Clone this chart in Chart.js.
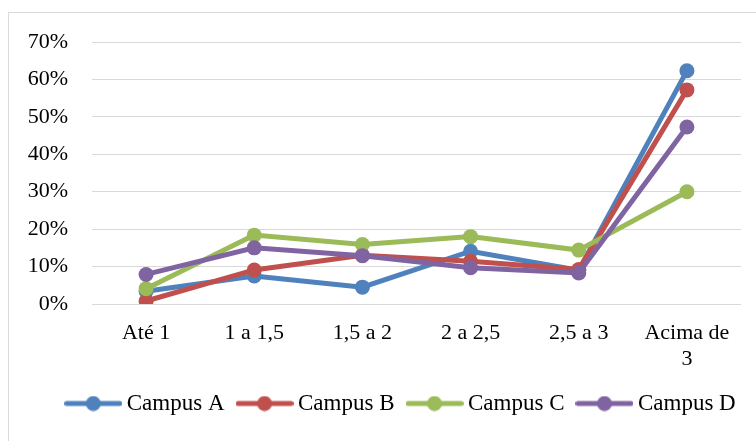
<!DOCTYPE html>
<html>
<head>
<meta charset="utf-8">
<script src="https://cdn.jsdelivr.net/npm/chart.js@4/dist/chart.umd.min.js"></script>
<style>
  html, body { margin: 0; padding: 0; background: #fff; overflow: hidden; }
  #wrap { position: relative; width: 756px; height: 441px; }
  #frame { position: absolute; left: 8px; top: 12px; width: 800px; height: 500px; border: 1px solid #d9d9d9; }
  canvas { position: absolute; left: 0; top: 0; }
</style>
</head>
<body>
<div id="wrap">
  <div id="frame"></div>
  <canvas id="c" width="756" height="441"></canvas>
</div>
<script>
// Share of students per range (percent)
const categories = ['Até 1', '1 a 1,5', '1,5 a 2', '2 a 2,5', '2,5 a 3', ['Acima de', '3']];
const campusA = [3.4, 7.5, 4.5, 14.1, 9.0, 62.3];
const campusB = [0.8, 9.1, 13.0, 11.4, 9.2, 57.2];
const campusC = [4.1, 18.4, 15.9, 18.0, 14.4, 30.0];
const campusD = [7.9, 15.0, 12.9, 9.7, 8.3, 47.3];
const seriesNames = ['Campus A', 'Campus B', 'Campus C', 'Campus D'];
const seriesColors = ['#4F81BD', '#C0504D', '#9BBB59', '#8064A2'];
const yMax = 70;
const yStep = 10;

const FONT = "'Liberation Serif', 'Times New Roman', serif";

// Legend symbol: short thick line with a dot in the middle
function makeMarker(color) {
  const cv = document.createElement('canvas');
  cv.width = 58; cv.height = 16;
  const g = cv.getContext('2d');
  g.strokeStyle = color; g.fillStyle = color;
  g.lineWidth = 5; g.lineCap = 'round';
  g.beginPath(); g.moveTo(2.5, 8); g.lineTo(55.5, 8); g.stroke();
  g.beginPath(); g.arc(29, 8, 7.5, 0, Math.PI * 2); g.fill();
  return cv;
}
const markers = seriesColors.map(makeMarker);

// Center the legend row under the whole frame rather than the plot
const legendShift = {
  id: 'legendShift',
  afterLayout(chart) {
    const lg = chart.legend;
    if (lg) { lg.left += 33; lg.right += 33; }
  }
};

const values = [campusA, campusB, campusC, campusD];
const datasets = values.map((v, i) => ({
  label: seriesNames[i],
  data: v,
  borderColor: seriesColors[i],
  backgroundColor: seriesColors[i],
  borderWidth: 5,
  pointRadius: 7.5,
  pointHoverRadius: 7.5,
  pointBorderWidth: 0,
  tension: 0,
  order: values.length - i
}));

new Chart(document.getElementById('c'), {
  type: 'line',
  data: { labels: categories, datasets },
  plugins: [legendShift],
  options: {
    responsive: false,
    animation: false,
    layout: { padding: { left: 0, top: 42, right: 15, bottom: 16 } },
    plugins: {
      tooltip: { enabled: false },
      legend: {
        position: 'bottom',
        labels: {
          color: '#000',
          font: { family: FONT, size: 23 },
          usePointStyle: true,
          pointStyleWidth: 44,
          boxHeight: 16,
          padding: 18,
          generateLabels(chart) {
            return chart.data.datasets.map((ds, i) => ({
              text: ds.label,
              pointStyle: markers[i],
              fillStyle: ds.borderColor,
              strokeStyle: ds.borderColor,
              lineWidth: 0,
              fontColor: '#000',
              hidden: !chart.isDatasetVisible(i),
              datasetIndex: i
            }));
          }
        }
      }
    },
    scales: {
      x: {
        offset: true,
        grid: { display: false, drawTicks: false, offset: true },
        border: { display: false },
        ticks: {
          color: '#000',
          font: { family: FONT, size: 22, lineHeight: 1.15 },
          padding: 17,
          maxRotation: 0,
          autoSkip: false
        },
        afterFit(scale) { scale.height = 70; }
      },
      y: {
        min: 0,
        max: yMax,
        grid: { color: '#d9d9d9', lineWidth: 1, drawTicks: false },
        border: { display: false },
        ticks: {
          stepSize: yStep,
          color: '#000',
          font: { family: FONT, size: 22 },
          padding: 24,
          callback: v => v + '%'
        },
        afterFit(scale) { scale.width = 92; }
      }
    }
  }
});
</script>
</body>
</html>
